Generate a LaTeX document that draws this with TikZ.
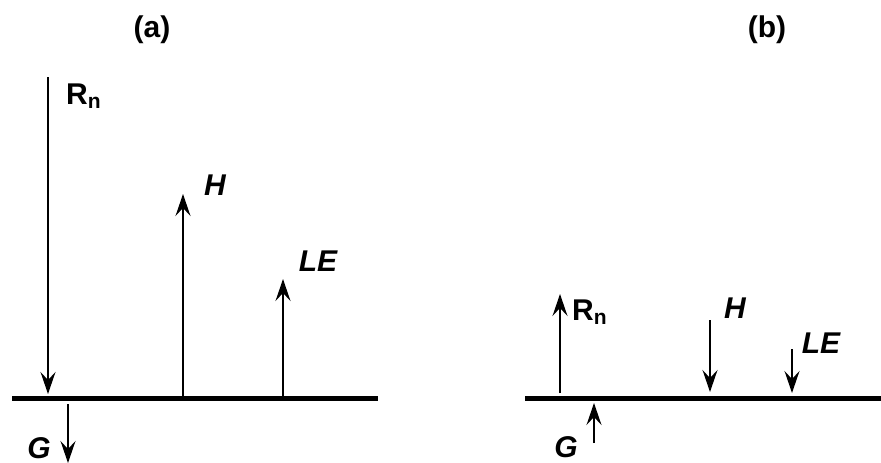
\documentclass[tikz,border=0pt]{standalone}
\usepackage{fontspec}
\setmainfont{Liberation Sans}
\usetikzlibrary{arrows.meta}
\begin{document}
\begin{tikzpicture}[x=1pt,y=-1pt,
  flux/.style={line width=1.7pt,-{Stealth[length=22pt,width=15pt,inset=8pt]}},
  ground/.style={line width=5pt},
  lbl/.style={inner sep=0pt,font=\fontsize{30}{34}\selectfont\bfseries},
  ilbl/.style={lbl,font=\fontsize{30}{34}\selectfont\bfseries\itshape},
  panel/.style={inner sep=0pt,font=\fontsize{30}{34}\selectfont\bfseries}]
\useasboundingbox (0,0) rectangle (881,463);

% ---- panel (a): daytime balance ----
\node[panel] (ta) at (152,30) {(a)};
\coordinate (ga1) at (12,398);
\coordinate (ga2) at (378,398);
\draw[ground] (ga1) -- (ga2);

\coordinate (rna0) at (48,77);
\coordinate (rna1) at (48,394);
\draw[flux] (rna0) -- (rna1);
\node[lbl,anchor=west] (rna) at (66,96) {R\textsubscript{n}};

\coordinate (ha0) at (183,396);
\coordinate (ha1) at (183,194);
\draw[flux] (ha0) -- (ha1);
\node[ilbl] (ha) at (215,185) {H};

\coordinate (lea0) at (283,396);
\coordinate (lea1) at (283,279);
\draw[flux] (lea0) -- (lea1);
\node[ilbl] (lea) at (318,261) {LE};

\coordinate (gga0) at (68,404);
\coordinate (gga1) at (68,463);
\draw[flux] (gga0) -- (gga1);
\node[ilbl] (gga) at (39,448) {G};

% ---- panel (b): night-time balance ----
\node[panel] (tb) at (767,30) {(b)};
\coordinate (gb1) at (525,398);
\coordinate (gb2) at (881,398);
\draw[ground] (gb1) -- (gb2);

\coordinate (rnb0) at (560,393);
\coordinate (rnb1) at (560,294);
\draw[flux] (rnb0) -- (rnb1);
\node[lbl,anchor=west] (rnb) at (572,312) {R\textsubscript{n}};

\coordinate (hb0) at (710,320);
\coordinate (hb1) at (710,392);
\draw[flux] (hb0) -- (hb1);
\node[ilbl] (hb) at (735,308) {H};

\coordinate (leb0) at (792,349);
\coordinate (leb1) at (792,393);
\draw[flux] (leb0) -- (leb1);
\node[ilbl] (leb) at (821,343) {LE};

\coordinate (ggb0) at (594,443);
\coordinate (ggb1) at (594,403);
\draw[flux] (ggb0) -- (ggb1);
\node[ilbl] (ggb) at (566,447) {G};
\end{tikzpicture}
\end{document}
